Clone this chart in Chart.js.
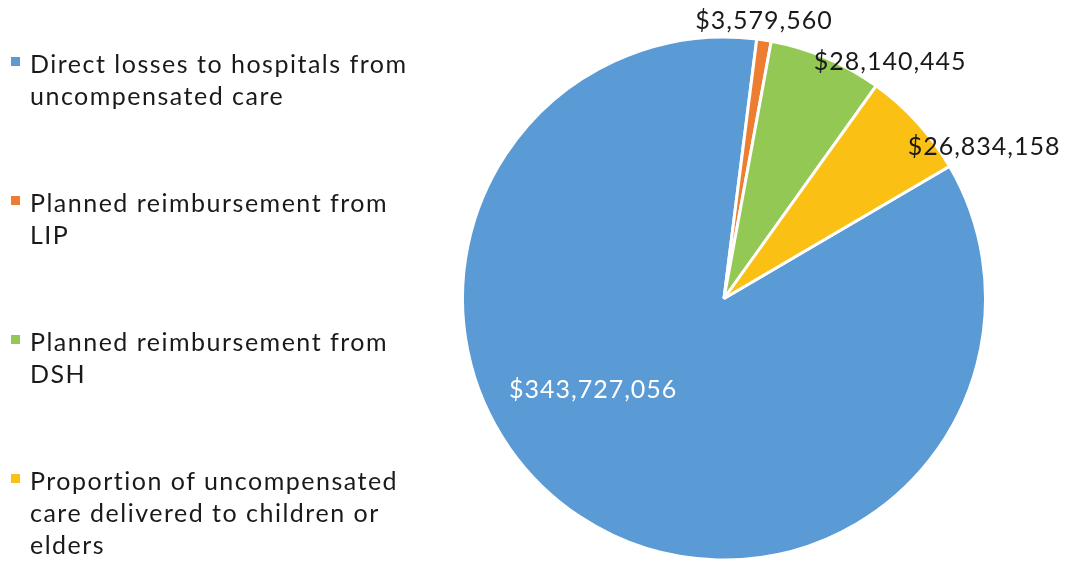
<!DOCTYPE html>
<html>
<head>
<meta charset="utf-8">
<script src="https://cdn.jsdelivr.net/npm/chart.js@4/dist/chart.umd.min.js"></script>
<style>
    html, body { margin: 0; padding: 0; background: #fff; }
    #wrap { position: relative; width: 1068px; height: 563px; }
    #legend { position: absolute; left: 0; top: 0; width: 460px; font-family: 'Lato', sans-serif; font-size: 25px; letter-spacing: 1.5px; color: #1a1a1a; }
    .item { position: absolute; left: 11px; }
    .box { position: absolute; left: 0; top: 10px; width: 9px; height: 9px; }
    .txt { position: absolute; left: 19px; line-height: 32px; white-space: nowrap; }
</style>
</head>
<body>
<div id="wrap">
    <div id="legend"></div>
    <canvas id="lossChart" width="1068" height="563"></canvas>
</div>
<script>
// categories, one line per entry
const categories = [
    ['Direct losses to hospitals from', 'uncompensated care'],
    ['Planned reimbursement from', 'LIP'],
    ['Planned reimbursement from', 'DSH'],
    ['Proportion of uncompensated', 'care delivered to children or', 'elders']
];
const amounts = [343727056, 3579560, 28140445, 26834158];
const sliceColors = ['#5B9BD5', '#ED7D31', '#92C853', '#FBC014'];
const labelColors = ['#ffffff', '#1a1a1a', '#1a1a1a', '#1a1a1a'];

// legend rows, built from the categories
const legendTops = [47, 186, 325, 464];
const legendEl = document.getElementById('legend');
categories.forEach((lines, i) => {
    const item = document.createElement('div');
    item.className = 'item';
    item.style.top = legendTops[i] + 'px';
    item.innerHTML = `<div class="box" style="background:${sliceColors[i]}"></div>` +
        `<div class="txt">${lines.join('<br>')}</div>`;
    legendEl.appendChild(item);
});

function money(v) {
    return '$' + v.toLocaleString('en-US');
}

// value labels: radial position (fraction of radius) plus a small nudge
const labelRadius = [0.61, 1, 1, 1];
const labelNudge = [[-43, -42], [0, -19], [64, 4], [67, 25]];

const valueLabels = {
    id: 'valueLabels',
    afterDatasetsDraw(chart) {
        const c = chart.ctx;
        const meta = chart.getDatasetMeta(0);
        c.save();
        c.font = "25px 'Lato', sans-serif";
        c.letterSpacing = '1px';
        c.textAlign = 'center';
        c.textBaseline = 'middle';
        meta.data.forEach((arc, i) => {
            const p = arc.getProps(['x', 'y', 'startAngle', 'endAngle', 'outerRadius'], true);
            const mid = (p.startAngle + p.endAngle) / 2;
            const r = p.outerRadius * labelRadius[i];
            const x = p.x + Math.cos(mid) * r + labelNudge[i][0];
            const y = p.y + Math.sin(mid) * r + labelNudge[i][1];
            c.fillStyle = labelColors[i];
            c.fillText(money(amounts[i]), x, y);
        });
        c.restore();
    }
};

new Chart(document.getElementById('lossChart'), {
    type: 'pie',
    data: {
        labels: categories.map(l => l.join(' ')),
        datasets: [{
            data: amounts,
            backgroundColor: sliceColors,
            borderColor: '#ffffff',
            borderWidth: 3
        }]
    },
    options: {
        responsive: false,
        animation: false,
        rotation: 59.6,
        layout: { padding: { left: 461, right: 81, top: 35, bottom: 1 } },
        plugins: {
            legend: { display: false },
            tooltip: { enabled: false }
        }
    },
    plugins: [valueLabels]
});
</script>
</body>
</html>
